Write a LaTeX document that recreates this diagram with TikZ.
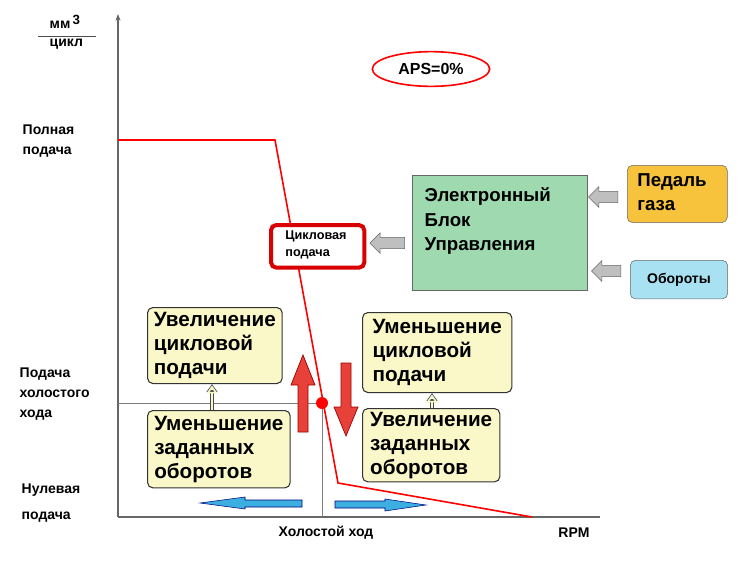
\documentclass[tikz,border=0pt]{standalone}
\usepackage{fontspec}
\setmainfont{Liberation Sans}
\usetikzlibrary{arrows.meta,shapes.geometric,shapes.arrows}
\definecolor{ecug}{HTML}{9ED9B0}
\definecolor{pedo}{HTML}{F7C23C}
\definecolor{obrb}{HTML}{A8E2F2}
\definecolor{yfill}{HTML}{FAF8C8}
\definecolor{rarr}{HTML}{E8413A}
\definecolor{barr}{HTML}{3BB0E0}
\tikzset{
 ybox/.style={draw=black!80,fill=yfill,rounded corners=4pt,line width=0.8pt,align=left,font=\bfseries\fontsize{15.5}{18}\selectfont,inner xsep=3pt,inner ysep=2pt,anchor=north west},
 lbl/.style={font=\bfseries\fontsize{10.5}{15}\selectfont,align=left,anchor=west},
 garrow/.style={single arrow,draw=black!60,fill=black!25,minimum height=22pt,inner xsep=0pt,inner ysep=4pt,single arrow head extend=3.5pt},
 rarrow/.style={draw=red!60!black,fill=rarr,line width=0.5pt},
 barrow/.style={draw=blue!50!black,fill=barr,line width=0.4pt}
}
\begin{document}
\begin{tikzpicture}[x=0.75pt,y=-0.75pt]
\useasboundingbox (0,0) rectangle (745,564);
% axes
\draw[black!60,line width=0.8pt,-{Stealth[length=5pt]}] (118,517) -- (118,14);
\draw[black!60,line width=0.8pt] (118,517) -- (600,517);
\draw[black!50,line width=0.6pt] (118,403) -- (322,403) -- (322,517);
% curve
\draw[red,line width=1.2pt] (118,140) -- (275,140) -- (338,483) -- (532,517);
\fill[red] (322,403) circle (6);
% labels
\node[lbl] (mm) at (45,22) {мм\raisebox{3pt}{\fontsize{10}{10}\selectfont\,3}};
\draw[black!70] (38,36) -- (96,36);
\node[lbl] (cy) at (45,44) {цикл};
\node[lbl] (full) at (18,141) {Полная\\подача};
\node[lbl] (idle) at (15,394) {Подача\\холостого\\хода};
\node[lbl] (zero) at (17,490) {Нулевая};
\node[lbl] (zero2) at (17,517) {подача};
\node[lbl,anchor=center] (hx) at (326,533) {Холостой ход};
\node[lbl,anchor=center] (rpm) at (574,533) {RPM};
% APS
\node[draw=red,ellipse,line width=1.2pt,minimum width=88pt,minimum height=26pt,font=\bfseries\fontsize{12}{14}\selectfont] (aps) at (431,69) {APS=0\%};
% ECU
\node[draw=black!60,fill=ecug,minimum width=131pt,minimum height=86pt,anchor=north west,inner sep=0pt] (ecu) at (412,175) {};
\node[align=left,anchor=north west,font=\bfseries\fontsize{14}{18.5}\selectfont] (ecut) at (420,183) {Электронный\\Блок\\Управления};
\node[draw=black!60,fill=pedo,rounded corners=4pt,minimum width=75pt,minimum height=43pt,anchor=north west,inner sep=0pt] (ped) at (627,165) {};
\node[align=left,font=\bfseries\fontsize{14}{18}\selectfont] (pedt) at (672,192) {Педаль\\газа};
\node[draw=black!60,fill=obrb,rounded corners=4pt,minimum width=73pt,minimum height=29pt,anchor=north west,inner sep=0pt,font=\bfseries\fontsize{10.5}{12}\selectfont] (obr) at (630,260) {Обороты};
\node[draw=red!85!black,fill=white,line width=3pt,rounded corners=4pt,minimum width=70pt,minimum height=32pt,anchor=north west,inner sep=0pt] (cp) at (269,223) {};
\node[align=left,font=\bfseries\fontsize{9.5}{13}\selectfont] (cpt) at (316,245) {Цикловая\\подача};
\node[garrow,shape border rotate=180] (g1) at (606,197) {};
\node[garrow,shape border rotate=180] (g2) at (609,271) {};
\node[garrow,shape border rotate=180,minimum height=26pt] (g3) at (390,243) {};
% yellow boxes
\node[ybox,minimum width=101pt,minimum height=57pt] (lt) at (147,307) {Увеличение\\цикловой\\подачи};
\node[ybox,minimum width=107pt,minimum height=58pt] (lb) at (147,410) {Уменьшение\\заданных\\оборотов};
\node[ybox,minimum width=112pt,minimum height=60pt] (rt) at (362,312) {Уменьшение\\цикловой\\подачи};
\node[ybox,minimum width=103pt,minimum height=55pt] (rb) at (362,408) {Увеличение\\заданных\\оборотов};
\draw[-{Triangle[open,length=6pt,width=8pt]},line width=2.5pt,draw=black!70] (lb.north -| 212,0) -- (lt.south -| 212,0);
\draw[-{Triangle[open,length=6pt,width=8pt]},line width=1.2pt,draw=yfill,shorten >=1pt] (lb.north -| 212,0) -- (lt.south -| 212,0);
\draw[-{Triangle[open,length=6pt,width=8pt]},line width=2.5pt,draw=black!70] (rb.north -| 432,0) -- (rt.south -| 432,0);
\draw[-{Triangle[open,length=6pt,width=8pt]},line width=1.2pt,draw=yfill,shorten >=1pt] (rb.north -| 432,0) -- (rt.south -| 432,0);
% red arrows
\draw[rarrow] (298,432) -- (308,432) -- (308,385) -- (315,385) -- (303,355) -- (291,385) -- (298,385) -- cycle;
\draw[rarrow] (341,363) -- (351,363) -- (351,407) -- (358,407) -- (346,436) -- (334,407) -- (341,407) -- cycle;
% blue arrows
\draw[barrow] (302,500) -- (302,507) -- (245,507) -- (245,509) -- (200,503) -- (245,497) -- (245,500) -- cycle;
\draw[barrow] (335,501) -- (335,508) -- (385,508) -- (385,511) -- (426,505) -- (385,499) -- (385,501) -- cycle;
\end{tikzpicture}
\end{document}
